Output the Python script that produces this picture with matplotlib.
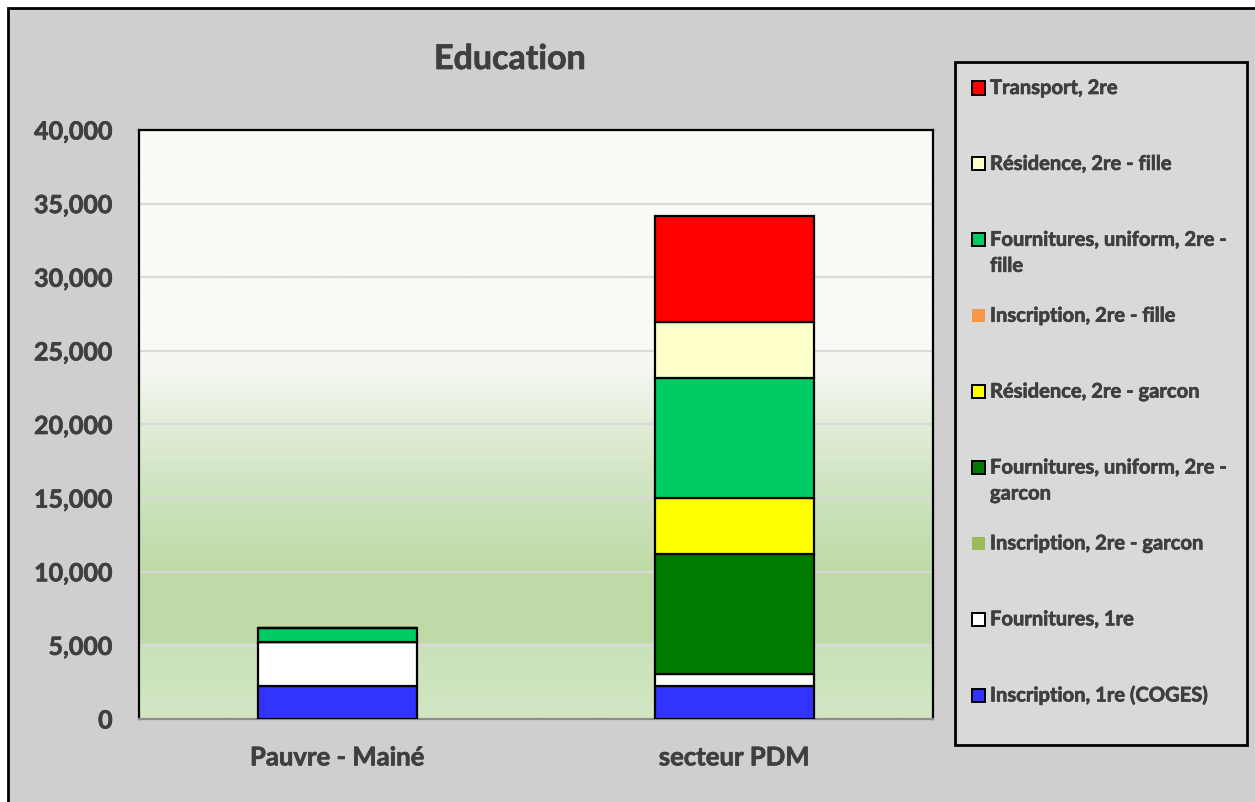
import numpy as np
import matplotlib
matplotlib.use("Agg")
import matplotlib.pyplot as plt
from matplotlib.patches import Rectangle
from matplotlib.colors import LinearSegmentedColormap
from matplotlib.ticker import FuncFormatter
import matplotlib.patheffects as pe

plt.rcParams['font.family'] = ['Lato', 'DejaVu Sans']
plt.rcParams['font.weight'] = 'bold'

# ---- data -------------------------------------------------------------
categories = ["Pauvre - Mainé", "secteur PDM"]

# stacked from bottom to top
series_labels = [
    "Inscription, 1re (COGES)",
    "Fournitures, 1re",
    "Inscription, 2re - garcon",
    "Fournitures, uniform, 2re -\ngarcon",
    "Résidence, 2re - garcon",
    "Inscription, 2re - fille",
    "Fournitures, uniform, 2re -\nfille",
    "Résidence, 2re - fille",
    "Transport, 2re",
]
inscription_1re = [2250, 2250]
fournitures_1re = [2950, 800]
inscription_2re_garcon = [0, 0]
fournitures_2re_garcon = [0, 8150]
residence_2re_garcon = [0, 3800]
inscription_2re_fille = [0, 0]
fournitures_2re_fille = [1000, 8150]
residence_2re_fille = [0, 3800]
transport_2re = [0, 7200]

series_values = [
    inscription_1re, fournitures_1re, inscription_2re_garcon,
    fournitures_2re_garcon, residence_2re_garcon, inscription_2re_fille,
    fournitures_2re_fille, residence_2re_fille, transport_2re,
]
series_colors = ["#3333FF", "#FFFFFF", "#9BBB59", "#007A00", "#FFFF00",
                 "#F79646", "#00CC66", "#FFFFCC", "#FF0000"]
series_outlined = [True, True, False, True, True, False, True, True, True]

y_ticks = list(range(0, 40001, 5000))

# ---- figure -----------------------------------------------------------
W, H = 1255, 802
fig = plt.figure(figsize=(W / 100, H / 100), dpi=100)
fig.patch.set_facecolor("white")
TEXT = "#3F3F3F"
heavy = [pe.withStroke(linewidth=0.5, foreground=TEXT)]

# chart frame
fig.patches.append(Rectangle((8 / W, -0.05), 1.2, 1 - 8 / H + 0.05,
                             transform=fig.transFigure, facecolor="#D0CECE",
                             edgecolor="black", lw=2, zorder=-10))

ax = fig.add_axes([139 / W, 1 - 719 / H, (933 - 139) / W, (719 - 130) / H])
ax.set_facecolor("none")
ax.set_xlim(-0.5, 1.5)
ax.set_ylim(0, 40000)

# gradient plot-area fill
stops = [(0.00, "#D2E6C3"), (0.12, "#CAE2BA"), (0.13, "#BFDAA7"),
         (0.25, "#BFDAA7"), (0.38, "#CDE3BE"), (0.50, "#E2EDD8"),
         (0.58, "#F2F6EE"), (0.64, "#F8FAF5"), (1.00, "#F8FAF5")]
cmap = LinearSegmentedColormap.from_list("plotfill", stops)
grad = np.linspace(0, 1, 512).reshape(-1, 1)
ax.imshow(grad, cmap=cmap, origin="lower", aspect="auto",
          extent=[-0.5, 1.5, 0, 40000], zorder=0, interpolation="bilinear")

ax.set_axisbelow(True)
ax.yaxis.grid(True, color="#D9D9D9", lw=1.6, zorder=0.5)

# stacked bars
x = np.arange(len(categories))
bottom = np.zeros(len(categories))
for vals, col, outl in zip(series_values, series_colors, series_outlined):
    ax.bar(x, vals, width=0.4, bottom=bottom, color=col,
           edgecolor="black" if outl else "none", linewidth=1.6 if outl else 0,
           zorder=3)
    bottom += np.array(vals)

ax.set_yticks(y_ticks)
ax.yaxis.set_major_formatter(FuncFormatter(lambda v, p: f"{int(v):,}"))
ax.set_xticks(x)
ax.set_xticklabels(categories)
ax.tick_params(axis="y", length=0, pad=19, labelsize=18, labelcolor=TEXT)
ax.tick_params(axis="x", length=0, pad=19, labelsize=18.5, labelcolor=TEXT)
for lab in ax.get_xticklabels() + ax.get_yticklabels():
    lab.set_fontweight("bold")
    lab.set_path_effects(heavy)

for side in ("left", "top", "right"):
    ax.spines[side].set_color("black")
    ax.spines[side].set_linewidth(1.6)
ax.spines["bottom"].set_color("#8C8C8C")
ax.spines["bottom"].set_linewidth(1.6)

fig.text(510 / W, 1 - 59 / H, "Education", ha="center", va="center",
         fontsize=24.5, fontweight="bold", color=TEXT, path_effects=heavy)

# legend panel
fig.patches.append(Rectangle((955 / W, 1 - 745 / H), (1247 - 955) / W,
                             (745 - 62) / H, transform=fig.transFigure,
                             facecolor="#D9D9D9", edgecolor="black", lw=2,
                             zorder=1))
leg_order = list(range(len(series_labels)))[::-1]
for slot, i in enumerate(leg_order):
    yc = 88 + slot * 75.9
    sq = 13
    fig.patches.append(Rectangle((972 / W, 1 - (yc + sq / 2) / H), sq / W, sq / H,
                                 transform=fig.transFigure,
                                 facecolor=series_colors[i],
                                 edgecolor="black" if series_outlined[i] else "none",
                                 lw=1.4, zorder=2))
    for k, line in enumerate(series_labels[i].split("\n")):
        fig.text(990 / W, 1 - (yc + k * 26) / H, line, ha="left", va="center",
                 fontsize=14.5, fontweight="bold", color=TEXT, zorder=3,
                 path_effects=heavy)

fig.savefig("out.png", dpi=100, facecolor=fig.get_facecolor())
